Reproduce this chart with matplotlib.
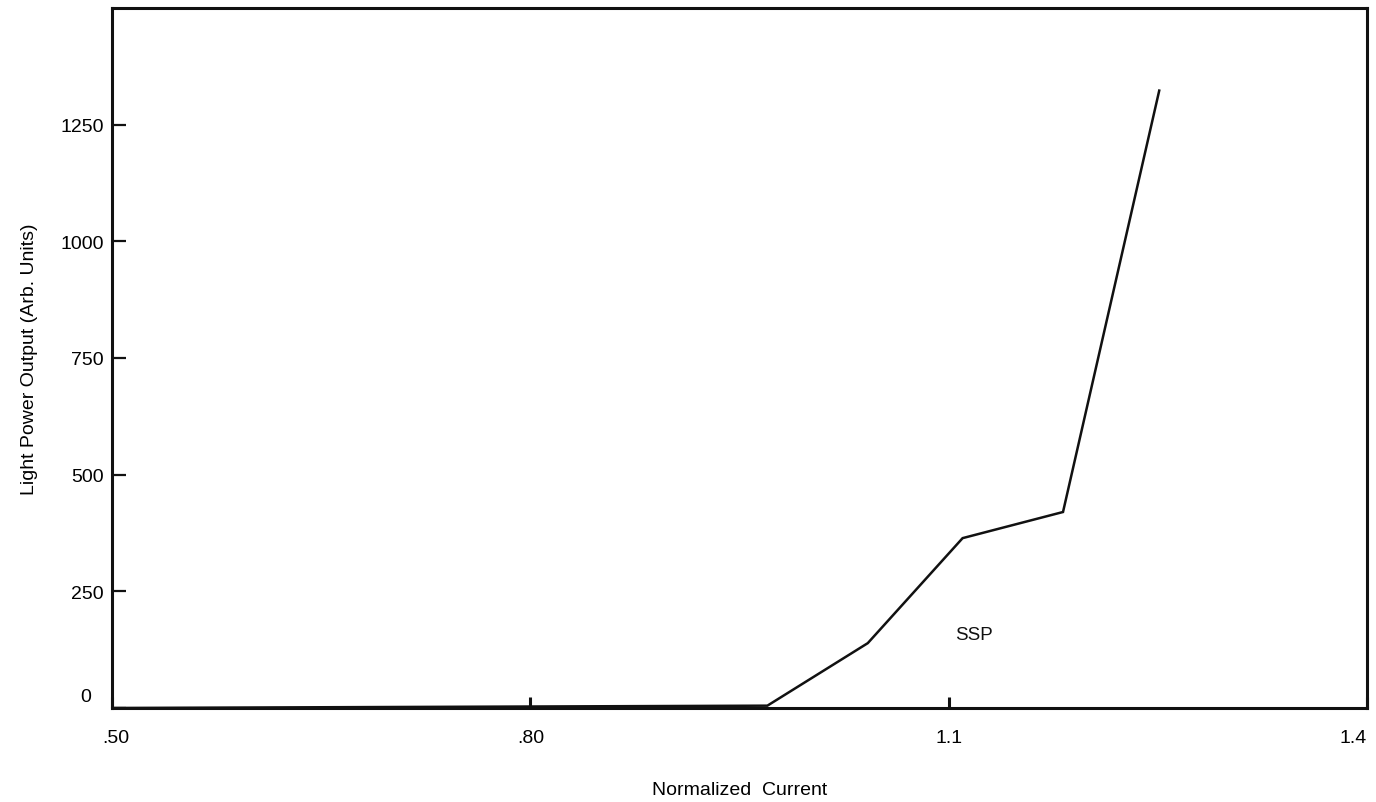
import matplotlib
matplotlib.use("Agg")
import matplotlib.pyplot as plt
import matplotlib.transforms as mtransforms

plt.rcParams['font.family'] = ['Liberation Sans', 'DejaVu Sans']

# Data
current = [0.50, 0.97, 1.042, 1.110, 1.182, 1.251]
power = [0, 5, 139, 364, 420, 1323]

x_ticks = [0.50, 0.80, 1.1, 1.4]
x_tick_labels = [".50", ".80", "1.1", "1.4"]
y_ticks = [0, 250, 500, 750, 1000, 1250]
y_tick_labels = ["0", "250", "500", "750", "1000", "1250"]

fig = plt.figure(figsize=(13.76, 8.03), dpi=100)
ax = fig.add_axes([112/1376, 1 - 709/803, (1367-112)/1376, (709-9)/803])

ax.plot(current, power, color="#111111", lw=1.8, solid_joinstyle="miter")

ax.set_xlim(0.5, 1.4)
ax.set_ylim(0, 1500)

ax.set_xticks(x_ticks)
ax.set_xticklabels(x_tick_labels)
ax.set_yticks(y_ticks)
ax.set_yticklabels(y_tick_labels)

ax.tick_params(axis="x", direction="in", length=8, width=2.2, pad=15,
               labelsize=14, color="#111111")
ax.tick_params(axis="y", direction="in", length=10, width=1.6, pad=6,
               labelsize=14, color="#111111")

for s in ax.spines.values():
    s.set_linewidth(2.2)
    s.set_color("#111111")


def shift(label, dx_px, dy_px):
    label.set_transform(label.get_transform() +
                        mtransforms.ScaledTranslation(dx_px/100, dy_px/100, fig.dpi_scale_trans))


# label offsets as in the reference
shift(ax.get_yticklabels()[0], -13, 13)
shift(ax.get_xticklabels()[0], 4, 0)
shift(ax.get_xticklabels()[-1], -14, 0)

ax.set_xlabel("Normalized  Current", fontsize=14, labelpad=25)
ax.set_ylabel("Light Power Output (Arb. Units)", fontsize=14, labelpad=16)

ax.text(1.118, 158, "SSP", fontsize=13.5, ha="center", va="center", color="#111111")

fig.savefig("out.png", dpi=100)
